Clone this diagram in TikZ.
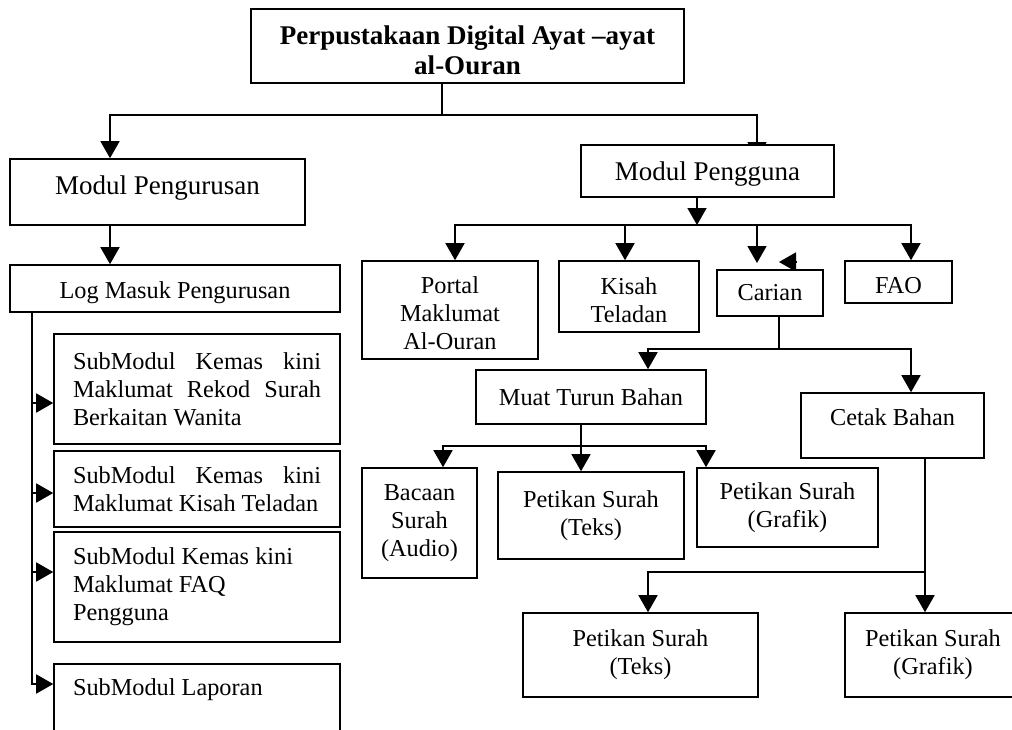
\documentclass[tikz,border=0pt]{standalone}
\usepackage{fontspec}
\setmainfont{Liberation Serif}
\usetikzlibrary{arrows.meta}
\pgfdeclarelayer{background}
\pgfsetlayers{background,main}
\newcommand\fsn{\fontsize{24.3}{28}\selectfont}
\newcommand\fsl{\fontsize{27}{30}\selectfont}
\newcommand\rsp{\spaceskip=0pt\xspaceskip=0pt\relax}
\newcommand\tup[1]{\rule{0pt}{#1}}
\begin{document}
\begin{tikzpicture}[x=1pt,y=-1pt,
  box/.style={draw, line width=1.6pt, fill=white, inner sep=0pt, align=center, font=\fsn},
  subbox/.style={box, minimum width=286pt, text width=248pt, align=left},
  ln/.style={line width=1.6pt},
  arr/.style={line width=1.6pt, -{Triangle[length=17pt,width=19pt]}}]
\useasboundingbox (0,0) rectangle (1012,729);
\begin{pgfonlayer}{background}
\fill[white] (0,0) rectangle (1012,729);
\end{pgfonlayer}
\clip (0,0) rectangle (1012,729);

% nodes
\node[box, minimum width=433pt, minimum height=74pt, font=\fsl\bfseries] (top) at (467.5,46) {\tup{27.3pt}Perpustakaan Digital Ayat –ayat\\al-Ouran};
\node[box, minimum width=295pt, minimum height=66pt, font=\fsl, text depth=13pt] (mpe) at (157.5,192) {Modul Pengurusan};
\node[box, minimum width=330pt, minimum height=47pt, text height=24.3pt, text depth=5.3pt] (lmp) at (175,288.5) {Log Masuk Pengurusan};
\node[subbox, minimum height=110pt] (s1) at (197,389) {\rsp\makebox[248pt][s]{SubModul Kemas kini}\\\makebox[248pt][s]{Maklumat Rekod Surah}\\Berkaitan Wanita};
\node[subbox, minimum height=76pt] (s2) at (197,489) {\rsp\makebox[248pt][s]{SubModul Kemas kini}\\Maklumat Kisah Teladan};
\node[subbox, minimum height=110pt] (s3) at (197,587) {\rsp SubModul Kemas kini\\Maklumat FAQ\\Pengguna};
\node[subbox, minimum height=110pt] (s4) at (197,719) {\rsp SubModul Laporan\\\strut\\\strut};

\node[box, minimum width=253pt, minimum height=52pt, font=\fsl, text height=24pt, text depth=6pt] (mpg) at (707.5,171) {Modul Pengguna};
\node[box, minimum width=176pt, minimum height=98pt] (portal) at (450,310) {\tup{22.6pt}Portal\\Maklumat\\Al-Ouran};
\node[box, minimum width=140pt, minimum height=71pt] (kisah) at (629,296.5) {\tup{24.5pt}Kisah\\Teladan};
\node[box, minimum width=106pt, minimum height=46pt] (carian) at (770,293) {Carian};
\node[box, minimum width=107pt, minimum height=42pt, text height=22.3pt, text depth=0pt] (faq) at (898.5,282) {FAO};
\node[box, minimum width=230pt, minimum height=54pt] (muat) at (591,397) {Muat Turun Bahan};
\node[box, minimum width=183pt, minimum height=65pt, text depth=17.8pt] (cetak) at (892.5,425.5) {Cetak Bahan};
\node[box, minimum width=115pt, minimum height=110pt] (bacaan) at (419.5,523) {Bacaan\\Surah\\(Audio)};
\node[box, minimum width=186pt, minimum height=87pt] (pt1) at (591,515.5) {Petikan Surah\\(Teks)};
\node[box, minimum width=181pt, minimum height=79pt] (pg1) at (787.5,507.5) {Petikan Surah\\(Grafik)};
\node[box, minimum width=235pt, minimum height=84pt] (pt2) at (640.5,655) {Petikan Surah\\(Teks)};
\node[box, minimum width=176pt, minimum height=84pt] (pg2) at (933,655) {Petikan Surah\\(Grafik)};

% coordinates
\coordinate (j1) at (442,115);
\coordinate (x110) at (110,0);
\coordinate (e757) at (757,159);
\coordinate (x32) at (32,0);
\coordinate (b1) at (32,403);
\coordinate (b2) at (32,493);
\coordinate (b3) at (32,572);
\coordinate (b4) at (32,684);
\coordinate (j2) at (697,225);
\coordinate (x455) at (455,0);
\coordinate (x625) at (625,0);
\coordinate (e757b) at (757,263);
\coordinate (x911) at (911,0);
\coordinate (cr1) at (797,262);
\coordinate (cr2) at (779,262);
\coordinate (j3) at (779,349);
\coordinate (x648) at (648,0);
\coordinate (j4) at (581,446);
\coordinate (x443) at (443,0);
\coordinate (x706) at (706,0);
\coordinate (j5) at (925,572);

\begin{pgfonlayer}{background}
\draw[ln] (top.south -| j1) -- (j1);
\draw[arr] (j1) -| (x110 |- mpe.north);
\draw[arr] (j1) -| (e757);
\draw[arr] (x110 |- mpe.south) -- (x110 |- lmp.north);
\draw[arr] (x32 |- lmp.south) |- (s4.west |- b4);
\draw[arr] (b1) -- (b1 -| s1.west);
\draw[arr] (b2) -- (b2 -| s2.west);
\draw[arr] (b3) -- (b3 -| s3.west);

\draw[arr] (mpg.south -| j2) -- (j2);
\draw[arr] (j2) -| (x455 |- portal.north);
\draw[arr] (j2) -| (x625 |- kisah.north);
\draw[arr] (j2) -| (e757b);
\draw[arr] (j2) -| (x911 |- faq.north);
\draw[arr] (cr1) -- (cr2);

\draw[ln] (carian.south -| j3) -- (j3);
\draw[arr] (j3) -| (x648 |- muat.north);
\draw[arr] (j3) -| (x911 |- cetak.north);

\draw[arr] (muat.south -| j4) -- (j4 |- pt1.north);
\draw[arr] (j4) -| (x443 |- bacaan.north);
\draw[arr] (j4) -| (x706 |- pg1.north);

\draw[arr] (cetak.south -| j5) -- (j5 |- pg2.north);
\draw[arr] (j5) -| (x648 |- pt2.north);
\end{pgfonlayer}
\end{tikzpicture}
\end{document}
